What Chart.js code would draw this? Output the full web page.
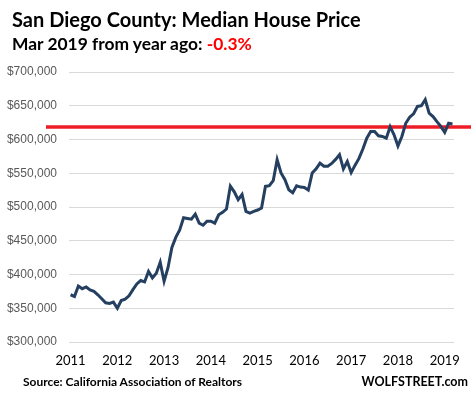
<!DOCTYPE html>
<html>
<head>
<meta charset="utf-8">
<script src="https://cdn.jsdelivr.net/npm/chart.js@4"></script>
<style>
body { margin: 0; background: #fff; }
#wrap { position: relative; width: 471px; height: 398px; }
#chart { position: absolute; left: 0; top: 0; }
.txt { position: absolute; white-space: nowrap; font-family: Lato, sans-serif; font-weight: bold; color: #000; line-height: 1; }
</style>
</head>
<body>
<div id="wrap">
  <canvas id="chart" width="471" height="398"></canvas>
  <div class="txt" style="left:12px; top:9px; font-size:20px;">San Diego County: Median House Price</div>
  <div class="txt" style="left:12px; top:35px; font-size:17.4px;">Mar 2019 from year ago: <span style="color:#ff0000">-0.3%</span></div>
  <div class="txt" style="left:23px; top:376px; font-size:12px;">Source: California Association of Realtors</div>
  <div class="txt" style="right:3px; top:376px; font-size:12.5px;">WOLFSTREET.com</div>
</div>
<script>
// median house price, monthly, Jan 2011 - Mar 2019
var yearLabels = ['2011', '2012', '2013', '2014', '2015', '2016', '2017', '2018', '2019'];
var prices = [
  370000, 367500, 383000, 379000, 381500, 377000, 375000, 370000, 364000, 358000, 357000, 359000,
  350000, 361500, 363500, 368500, 377500, 386000, 391000, 389000, 404500, 395000, 402000, 418000,
  390000, 410000, 440000, 455000, 466000, 484000, 483000, 482000, 489500, 476000, 473000, 479000,
  479000, 476000, 488500, 492000, 497000, 531000, 522500, 511000, 518500, 493500, 491000, 493500,
  495500, 498500, 530500, 531500, 539000, 570000, 550500, 540500, 525500, 521000, 531500, 529500,
  529000, 525000, 550500, 556500, 565000, 560500, 560500, 564500, 570500, 577500, 556500, 567500,
  551000, 562000, 572000, 586000, 602000, 612000, 612000, 605500, 604500, 602000, 619000, 607000,
  590500, 604500, 624000, 633000, 638000, 649000, 650000, 659000, 639000, 634000, 626500, 619500,
  610500, 624000, 623000
];
var refLevel = 618600;

var refLine = {
  id: 'refLine',
  beforeDatasetsDraw: function(chart) {
    var ctx = chart.ctx;
    var y = chart.scales.y.getPixelForValue(refLevel);
    ctx.save();
    ctx.strokeStyle = '#ee1c25';
    ctx.lineWidth = 3.5;
    ctx.beginPath();
    ctx.moveTo(46, y);
    ctx.lineTo(chart.width, y);
    ctx.stroke();
    ctx.restore();
  }
};

var ctx = document.getElementById('chart');
var chart = new Chart(ctx, {
  type: 'line',
  data: {
    datasets: [{
      data: prices.map(function(v, i) { return { x: i, y: v }; }),
      borderColor: '#243f60',
      borderWidth: 3,
      pointRadius: 0,
      tension: 0,
      fill: false
    }]
  },
  options: {
    responsive: false,
    animation: false,
    devicePixelRatio: 1,
    layout: { padding: { top: 72, right: 8, left: 0, bottom: 0 } },
    plugins: { legend: { display: false }, tooltip: { enabled: false } },
    scales: {
      x: {
        type: 'linear',
        min: -0.4,
        max: 98.4,
        afterFit: function(axis) { axis.height = 56; },
        grid: { display: false, drawTicks: false },
        border: { display: false },
        ticks: {
          stepSize: 12,
          includeBounds: false,
          padding: 11,
          color: '#000',
          font: { family: 'Lato', size: 13 },
          maxRotation: 0,
          callback: function(v) { return yearLabels[v / 12]; }
        }
      },
      y: {
        min: 300000,
        max: 700000,
        afterFit: function(axis) { axis.width = 69; },
        grid: { color: '#d9d9d9', lineWidth: 1, drawTicks: false },
        border: { display: false },
        ticks: {
          stepSize: 50000,
          padding: 12,
          color: '#595959',
          font: { family: 'Liberation Sans', size: 12 },
          callback: function(v) { return '$' + v.toLocaleString('en-US'); }
        }
      }
    }
  },
  plugins: [refLine]
});
</script>
</body>
</html>
